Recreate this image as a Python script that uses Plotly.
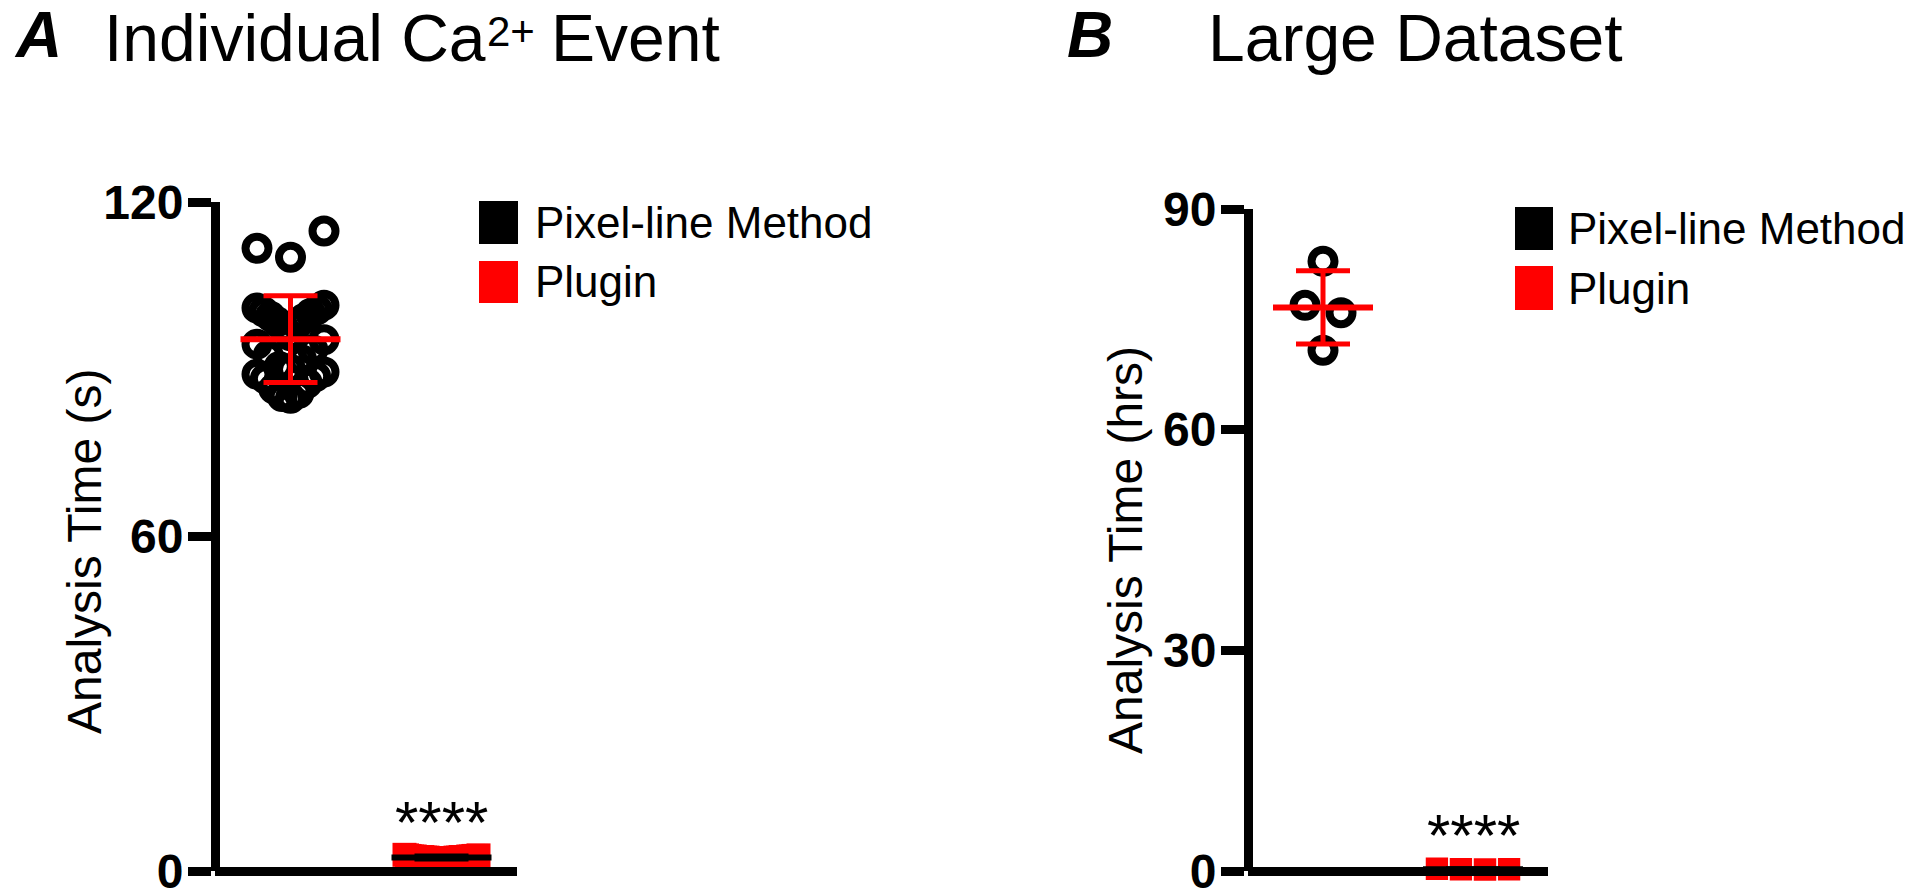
import numpy as np
import plotly.graph_objects as go

W, H = 1920, 896
FONT = "Liberation Sans, Arial, Helvetica, sans-serif"

# ---------------- data ----------------
groups = ["Pixel-line Method", "Plugin"]

# Panel A: analysis time of an individual Ca2+ event (s)
a_pixel_line = [114.8, 111.7, 110.1,
                101.5, 101.0, 100.7, 100.3, 100.0, 99.5, 99.1, 98.5, 98.0, 97.3, 96.0,
                95.3, 94.5, 93.5, 92.5, 91.7, 90.5, 90.0,
                89.5, 89.1, 88.7, 88.3, 87.5, 86.5, 85.7, 85.1, 84.8]
a_plugin = [2.9, 2.8, 2.8, 2.7, 2.7, 2.7, 2.6, 2.6, 2.6, 2.6,
            2.5, 2.5, 2.5, 2.5, 2.5, 2.5, 2.4, 2.4, 2.4, 2.4,
            2.3, 2.3, 2.3, 2.2, 2.2, 2.1, 2.1, 2.0, 1.9, 1.8]

# Panel B: analysis time of a large dataset (hrs)
b_pixel_line = [82.9, 76.9, 75.9, 70.8]
b_plugin = [0.30, 0.25, 0.25, 0.20]

a_yticks = [0, 60, 120]
b_yticks = [0, 30, 60, 90]
a_ymax = 120
b_ymax = 90

panel_letters = ["A", "B"]
# title of A: main text, superscript, rest
a_title_parts = ["Individual Ca", "2+", "Event"]
b_title = "Large Dataset"
y_labels = ["Analysis Time (s)", "Analysis Time (hrs)"]
significance = "****"

# ---------------- style / layout (pixels) ----------------
marker_colors = ["black", "red"]
summary_colors = ["red", "black"]

panels = [
    dict(left=215, right=517, top=202, bottom=871, ymax=a_ymax, ticks=a_yticks,
         data=[a_pixel_line, a_plugin], sq_line=0,
         letter_x=12, letter_y=35, ylab_x=84, ylab_y=552,
         leg_x0=479, leg_x1=518, leg_rows=[(201, 244), (261, 303)], leg_text_x=533,
         star_y=822),
    dict(left=1248, right=1548, top=209, bottom=871, ymax=b_ymax, ticks=b_yticks,
         data=[b_pixel_line, b_plugin], sq_line=1.5,
         letter_x=1065, letter_y=35, ylab_x=1125, ylab_y=550,
         leg_x0=1515, leg_x1=1553, leg_rows=[(207, 250), (266, 310)], leg_text_x=1566,
         star_y=835),
]

CIRCLE_SIZE, CIRCLE_LW = 23, 8
CIRCLE_STEP = 36
SQUARE_SIZE = 24
COLUMN_SPAN = 98     # px, edge to edge width of a scatter column
XRANGE = [-0.5, 1.5]


def px(x):
    return x / W


def py(y):
    return 1 - y / H


def swarm_offsets(values, px_per_x, px_per_y, mark_px, step_px, span_px):
    n = len(values)
    order = sorted(range(n), key=lambda i: -values[i])
    row_h = mark_px / px_per_y
    rows, cur, start = [], [], None
    for i in order:
        if start is None or start - values[i] > row_h:
            if cur:
                rows.append(cur)
            cur, start = [i], values[i]
        else:
            cur.append(i)
    if cur:
        rows.append(cur)
    offs = [0.0] * n
    for row in rows:
        k = len(row)
        if k == 1:
            continue
        step = min(step_px, (span_px - mark_px) / (k - 1))
        slots = [(j - (k - 1) / 2) * step for j in range(k)]
        slots.sort(key=lambda p: (round(abs(p), 6), p if k % 2 else -p))
        for i, p in zip(sorted(row, key=lambda i: values[i]), slots):
            offs[i] = p / px_per_x
    return offs


fig = go.Figure()
shapes, annotations = [], []

for pi, P in enumerate(panels):
    xs = "" if pi == 0 else str(pi + 1)
    xdom = [px(P["left"]), px(P["right"])]
    ydom = [py(P["bottom"]), py(P["top"])]
    px_per_x = (P["right"] - P["left"]) / (XRANGE[1] - XRANGE[0])
    px_per_y = (P["bottom"] - P["top"]) / P["ymax"]

    for gi, vals in enumerate(P["data"]):
        if gi == 0:
            d = CIRCLE_SIZE + CIRCLE_LW
            offs = swarm_offsets(vals, px_per_x, px_per_y, d, CIRCLE_STEP, COLUMN_SPAN)
            marker = dict(symbol="circle-open", size=CIRCLE_SIZE, color=marker_colors[gi],
                          line=dict(width=CIRCLE_LW, color=marker_colors[gi]))
        else:
            offs = swarm_offsets(vals, px_per_x, px_per_y, SQUARE_SIZE, SQUARE_SIZE, COLUMN_SPAN)
            marker = dict(symbol="square", size=SQUARE_SIZE, color=marker_colors[gi],
                          line=dict(width=P["sq_line"], color="white"))
        fig.add_trace(go.Scatter(
            x=[gi + o for o in offs], y=vals, mode="markers", marker=marker,
            cliponaxis=False, showlegend=False, name=groups[gi],
            xaxis="x" + xs, yaxis="y" + xs))

    for gi, vals in enumerate(P["data"]):
        m = float(np.mean(vals))
        sd = float(np.std(vals, ddof=1))
        half = 50 / px_per_x
        fig.add_trace(go.Scatter(
            x=[gi - half, gi + half], y=[m, m], mode="lines",
            line=dict(color=summary_colors[gi], width=6),
            cliponaxis=False, showlegend=False, hoverinfo="skip",
            xaxis="x" + xs, yaxis="y" + xs))
        fig.add_trace(go.Scatter(
            x=[gi], y=[m], mode="markers",
            marker=dict(size=1, color="rgba(0,0,0,0)"),
            error_y=dict(type="data", array=[sd], color=summary_colors[gi],
                         thickness=5, width=27),
            cliponaxis=False, showlegend=False, hoverinfo="skip",
            xaxis="x" + xs, yaxis="y" + xs))

    fig.update_layout({
        "xaxis" + xs: dict(domain=xdom, range=XRANGE, showline=True, linewidth=9,
                           linecolor="black", ticks="", showticklabels=False,
                           showgrid=False, zeroline=False, anchor="free",
                           position=ydom[0], fixedrange=True, automargin=False),
        "yaxis" + xs: dict(domain=ydom, range=[0, P["ymax"]], tickvals=P["ticks"],
                           ticktext=[str(t) for t in P["ticks"]],
                           ticks="outside", ticklen=23, tickwidth=9, tickcolor="black",
                           showline=True, linewidth=9, linecolor="black",
                           showgrid=False, zeroline=False, anchor="free",
                           position=xdom[0], fixedrange=True, automargin=False,
                           ticklabeloverflow="allow", ticklabelstandoff=-5,
                           tickfont=dict(family=FONT, size=48, color="black", weight="bold")),
    })

    # panel letter
    annotations.append(dict(text=panel_letters[pi], xref="paper", yref="paper",
                            x=px(P["letter_x"]), y=py(P["letter_y"]),
                            xanchor="left", yanchor="middle", showarrow=False,
                            font=dict(family=FONT, size=64, color="black",
                                      weight="bold", style="italic")))
    # y axis label
    annotations.append(dict(text=y_labels[pi], xref="paper", yref="paper",
                            x=px(P["ylab_x"]), y=py(P["ylab_y"]), textangle=-90,
                            xanchor="center", yanchor="middle", showarrow=False,
                            font=dict(family=FONT, size=48, color="black")))
    # significance stars above plugin group
    annotations.append(dict(text=significance, xref="x" + xs, yref="paper",
                            x=1, y=py(P["star_y"]), xanchor="center", yanchor="middle",
                            showarrow=False, font=dict(family=FONT, size=60, color="black")))
    # legend
    for gi, (y0, y1) in enumerate(P["leg_rows"]):
        shapes.append(dict(type="rect", xref="paper", yref="paper",
                           x0=px(P["leg_x0"]), x1=px(P["leg_x1"]), y0=py(y1), y1=py(y0),
                           fillcolor=marker_colors[gi], line=dict(width=0)))
        annotations.append(dict(text=groups[gi], xref="paper", yref="paper",
                                x=px(P["leg_text_x"]), y=py((y0 + y1) / 2),
                                xanchor="left", yanchor="middle", showarrow=False,
                                font=dict(family=FONT, size=44, color="black")))

# panel titles (A title built from main text + superscript)
title_font = dict(family=FONT, size=66, color="black")
annotations.append(dict(text=a_title_parts[0], xref="paper", yref="paper",
                        x=px(102), y=py(38), xanchor="left", yanchor="middle",
                        showarrow=False, font=title_font))
annotations.append(dict(text=a_title_parts[1], xref="paper", yref="paper",
                        x=px(485), y=py(32), xanchor="left", yanchor="middle",
                        showarrow=False, font=dict(family=FONT, size=42, color="black")))
annotations.append(dict(text=a_title_parts[2], xref="paper", yref="paper",
                        x=px(549), y=py(38), xanchor="left", yanchor="middle",
                        showarrow=False, font=title_font))
annotations.append(dict(text=b_title, xref="paper", yref="paper",
                        x=px(1206), y=py(38), xanchor="left", yanchor="middle",
                        showarrow=False, font=title_font))

fig.update_layout(width=W, height=H, autosize=False,
                  margin=dict(l=0, r=0, t=0, b=0, pad=0, autoexpand=False),
                  paper_bgcolor="white", plot_bgcolor="white",
                  shapes=shapes, annotations=annotations, showlegend=False,
                  font=dict(family=FONT, color="black"))

fig.write_html("out.html", config={"displayModeBar": False},
               post_script="document.body.style.margin='0';")
